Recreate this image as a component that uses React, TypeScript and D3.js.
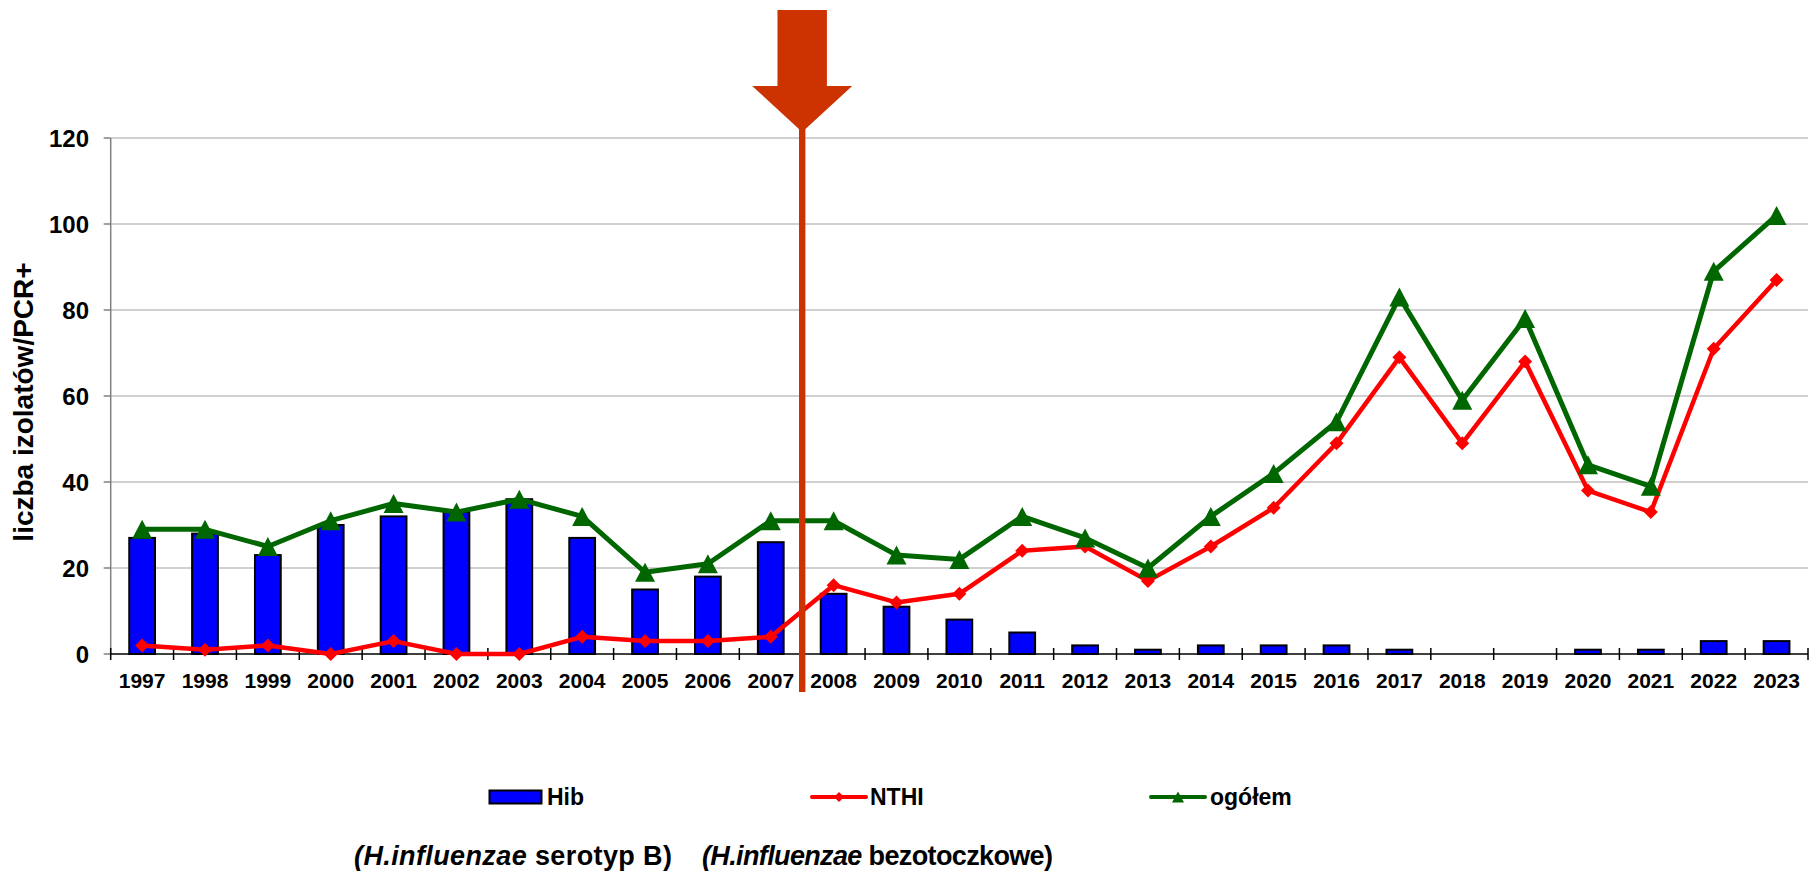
import React from "react";
import * as d3 from "d3";

// data
const years = [
  "1997", "1998", "1999", "2000", "2001", "2002", "2003", "2004", "2005",
  "2006", "2007", "2008", "2009", "2010", "2011", "2012", "2013", "2014",
  "2015", "2016", "2017", "2018", "2019", "2020", "2021", "2022", "2023"
];
const hib = [27, 28, 23, 30, 32, 33, 36, 27, 15, 18, 26, 14, 11, 8, 5, 2, 1, 2, 2, 2, 1, 0, 0, 1, 1, 3, 3];
const nthi = [2, 1, 2, 0, 3, 0, 0, 4, 3, 3, 4, 16, 12, 14, 24, 25, 17, 25, 34, 49, 69, 49, 68, 38, 33, 71, 87];
const total = [29, 29, 25, 31, 35, 33, 36, 32, 19, 21, 31, 31, 23, 22, 32, 27, 20, 32, 42, 54, 83, 59, 78, 44, 39, 89, 102];
const yTicks = [0, 20, 40, 60, 80, 100, 120];
const vaccineYear = "2008"; // arrow marks start of this year

const FONT = "'Liberation Sans', Arial, sans-serif";
const W = 1820;
const H = 872;

const App = () => {
  // ----- plot area
  const left = 110.7;
  const right = 1808;
  const top = 138;
  const bottom = 654;

  const x = d3.scaleBand<string>().domain(years).range([left, right]).paddingInner(0).paddingOuter(0);
  const y = d3.scaleLinear().domain([0, 120]).range([bottom, top]);
  const bw = x.bandwidth();
  const barW = bw * 0.41;
  const cx = (yr: string) => (x(yr) as number) + bw / 2;

  const line = d3
    .line<number>()
    .x((_, i) => cx(years[i]))
    .y(d => y(d));

  const diamond = (px: number, py: number, r: number) =>
    `M${px},${py - r}L${px + r},${py}L${px},${py + r}L${px - r},${py}Z`;
  const triangle = (px: number, py: number, w: number, h: number) =>
    `M${px},${py - h / 2}L${px + w / 2},${py + h / 2}L${px - w / 2},${py + h / 2}Z`;

  // arrow at the boundary of the vaccine year
  const ax = x(vaccineYear) as number;

  const xTickPos = years.map(yr => x(yr) as number).concat([right]);

  return (
    <div style={{ position: "absolute", left: 0, top: 0 }}>
      <svg width={W} height={H} style={{ display: "block", background: "#fff" }} fontFamily={FONT}>
        {/* grid */}
        {yTicks.slice(1).map(t => (
          <line key={"g" + t} x1={left} x2={right} y1={y(t)} y2={y(t)} stroke="#c0c0c0" strokeWidth={1.5} />
        ))}
        {/* y axis */}
        <line x1={left} x2={left} y1={top} y2={bottom} stroke="#808080" strokeWidth={1.5} />
        {yTicks.map(t => (
          <g key={"yt" + t}>
            <line x1={left - 7} x2={left} y1={y(t)} y2={y(t)} stroke="#808080" strokeWidth={1.5} />
            <text x={89} y={y(t)} dy="0.36em" textAnchor="end" fontSize={24} fontWeight="bold" fill="#000">
              {t}
            </text>
          </g>
        ))}
        <text
          transform={`translate(33,402) rotate(-90)`}
          textAnchor="middle"
          fontSize={28}
          fontWeight="bold"
          fill="#000"
        >
          liczba izolatów/PCR+
        </text>

        {/* bars */}
        {years.map((yr, i) =>
          hib[i] > 0 ? (
            <rect
              key={"b" + yr}
              x={cx(yr) - barW / 2}
              y={y(hib[i])}
              width={barW}
              height={y(0) - y(hib[i])}
              fill="#0000ff"
              stroke="#000"
              strokeWidth={2}
            />
          ) : null
        )}

        {/* x axis */}
        <line x1={left} x2={right} y1={bottom} y2={bottom} stroke="#000" strokeWidth={1.5} />
        {xTickPos.map((p, i) => (
          <line key={"xt" + i} x1={p} x2={p} y1={bottom - 6} y2={bottom + 6} stroke="#000" strokeWidth={1.5} />
        ))}
        {years.map(yr => (
          <text key={"xl" + yr} x={cx(yr)} y={688} textAnchor="middle" fontSize={21} fontWeight="bold" fill="#000">
            {yr}
          </text>
        ))}

        {/* NTHI */}
        <path d={line(nthi) || ""} fill="none" stroke="#ff0000" strokeWidth={4.5} strokeLinejoin="round" />
        {nthi.map((v, i) => (
          <path key={"d" + i} d={diamond(cx(years[i]), y(v), 7)} fill="#ff0000" />
        ))}

        {/* ogółem */}
        <path d={line(total) || ""} fill="none" stroke="#006600" strokeWidth={5} strokeLinejoin="round" />
        {total.map((v, i) => (
          <path key={"t" + i} d={triangle(cx(years[i]), y(v), 20, 19)} fill="#006600" />
        ))}

        {/* arrow */}
        <rect x={ax - 3.2} y={125} width={6.4} height={692 - 125} fill="#cc3300" />
        <path
          d={`M${ax - 24.7},10L${ax + 24.7},10L${ax + 24.7},86L${ax + 50},86L${ax},132L${ax - 50},86L${ax - 24.7},86Z`}
          fill="#cc3300"
        />

        {/* legend */}
        <rect x={489.5} y={790.5} width={52} height={13} fill="#0000ff" stroke="#000" strokeWidth={2} />
        <text x={547} y={805} fontSize={23} fontWeight="bold" fill="#000">Hib</text>

        <line x1={812} x2={866} y1={797} y2={797} stroke="#ff0000" strokeWidth={4} strokeLinecap="round" />
        <path d={diamond(839, 797, 5)} fill="#ff0000" />
        <text x={870} y={805} fontSize={23} fontWeight="bold" fill="#000">NTHI</text>

        <line x1={1151} x2={1205} y1={797} y2={797} stroke="#006600" strokeWidth={4} strokeLinecap="round" />
        <path d={triangle(1178, 797, 12, 11)} fill="#006600" />
        <text x={1210} y={805} fontSize={23} fontWeight="bold" fill="#000">ogółem</text>

        {/* subtitles */}
        <text x={354} y={865} fontSize={27} fontWeight="bold" fill="#000" textLength={318} lengthAdjust="spacing">
          <tspan fontStyle="italic">(H.influenzae</tspan> serotyp B)
        </text>
        <text x={702} y={865} fontSize={27} fontWeight="bold" fill="#000" textLength={351} lengthAdjust="spacing">
          <tspan fontStyle="italic">(H.influenzae</tspan> bezotoczkowe)
        </text>
      </svg>
    </div>
  );
};

export default App;
